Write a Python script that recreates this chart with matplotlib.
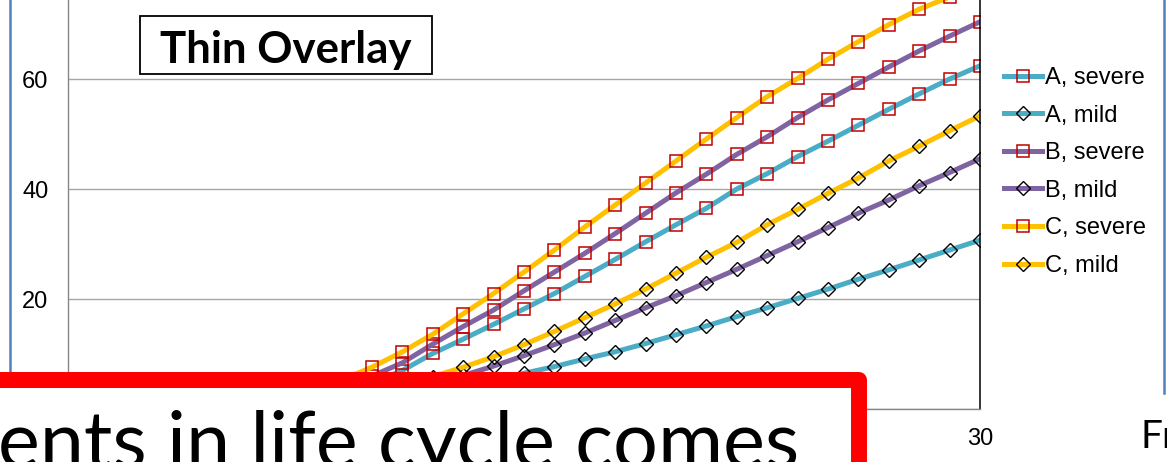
import matplotlib.pyplot as plt
from matplotlib.patches import Rectangle
from matplotlib.lines import Line2D

W, H = 1167, 462

days = list(range(31))

a_severe = [0, 0, 0, 0, 0.1, 0.3, 0.6, 1.1, 1.8, 2.9, 4.7, 7.0, 10.1, 12.7, 15.4, 18.2,
            21.0, 24.1, 27.2, 30.4, 33.5, 36.5, 40.0, 42.8, 45.9, 48.7, 51.6, 54.5, 57.3, 60.0, 62.4]
a_mild = [0, 0, 0, 0, 0, 0.1, 0.3, 0.5, 0.9, 1.4, 2.0, 2.7, 3.5, 4.4, 5.4, 6.5,
          7.7, 9.1, 10.4, 11.9, 13.5, 15.1, 16.8, 18.4, 20.1, 21.8, 23.6, 25.3, 27.1, 28.9, 30.7]
b_severe = [0, 0, 0, 0, 0.1, 0.3, 0.7, 1.3, 2.3, 3.8, 6.0, 8.4, 11.8, 15.0, 18.0, 21.5,
            24.9, 28.3, 31.9, 35.6, 39.3, 42.7, 46.3, 49.5, 53.0, 56.2, 59.2, 62.2, 65.1, 67.8, 70.4]
b_mild = [0, 0, 0, 0, 0.05, 0.15, 0.3, 0.6, 1.1, 1.7, 2.5, 3.5, 4.7, 6.1, 7.8, 9.7,
          11.7, 13.8, 16.1, 18.4, 20.6, 23.0, 25.4, 27.9, 30.4, 33.0, 35.6, 38.0, 40.6, 43.0, 45.5]
c_severe = [0, 0, 0.05, 0.15, 0.35, 0.7, 1.3, 2.2, 3.5, 5.3, 7.6, 10.4, 13.6, 17.3, 21.0, 24.9,
            28.9, 33.1, 37.1, 41.1, 45.1, 49.1, 53.0, 56.8, 60.1, 63.6, 66.8, 69.9, 72.7, 74.9, 77.0]
c_mild = [0, 0, 0, 0, 0.1, 0.2, 0.4, 0.8, 1.4, 2.2, 3.2, 4.4, 5.9, 7.6, 9.5, 11.7,
          14.1, 16.6, 19.1, 21.8, 24.7, 27.6, 30.3, 33.5, 36.3, 39.2, 42.0, 45.1, 47.8, 50.6, 53.3]

labels = ['A, severe', 'A, mild', 'B, severe', 'B, mild', 'C, severe', 'C, mild']
series = [a_severe, a_mild, b_severe, b_mild, c_severe, c_mild]
colors = ['#4BACC6', '#4BACC6', '#8064A2', '#8064A2', '#FFC000', '#FFC000']
y_ticks = [0, 20, 40, 60, 80]
x_ticks = [0, 10, 20, 30]


def fx(px):
    return px / W


def fy(py):
    return (H - py) / H


fig = plt.figure(figsize=(W / 100, H / 100), dpi=100)
fig.patch.set_facecolor('white')

# plot area: x=0 at 68px, x=30 at 980px; y=0 at 409px, 5.5 px per unit
ax = fig.add_axes([fx(68), fy(409), (980 - 68) / W, 440 / H])
ax.set_xlim(0, 30)
ax.set_ylim(0, 80)

for name, vals, col in zip(labels, series, colors):
    if 'severe' in name:
        ax.plot(days, vals, color=col, lw=3.6, marker='s', ms=8.8, mfc='none',
                mec='#C00000', mew=1.1, label=name)
    else:
        ax.plot(days, vals, color=col, lw=3.6, marker='D', ms=7.6, mfc='none',
                mec='black', mew=1.0, label=name)

ax.set_yticks(y_ticks)
ax.set_xticks(x_ticks)
ax.tick_params(length=0, labelsize=17, pad=14)
for t in ax.get_xticklabels() + ax.get_yticklabels():
    t.set_fontfamily('Liberation Sans')
ax.grid(axis='y', color='#A6A6A6', lw=1.0)
ax.set_axisbelow(True)
for s in ('left', 'bottom'):
    ax.spines[s].set_color('#868686')
    ax.spines[s].set_linewidth(1.0)
ax.spines['right'].set_color('black')
ax.spines['right'].set_linewidth(1.1)
ax.spines['top'].set_visible(False)

leg = fig.legend(loc='upper left', bbox_to_anchor=(fx(1004), fy(67)),
                 frameon=False, borderpad=0, borderaxespad=0, handlelength=1.6,
                 handletextpad=0.15, labelspacing=0.66,
                 prop={'family': 'Liberation Sans', 'size': 17})

# slide frame lines
fig.add_artist(Line2D([fx(10), fx(10)], [fy(0), fy(380)], color='#4F81BD', lw=1.8, zorder=3))
fig.add_artist(Line2D([fx(1164), fx(1164)], [fy(0), fy(393)], color='#4F81BD', lw=1.8, zorder=3))

# title box
fig.add_artist(Rectangle((fx(140), fy(74)), fx(432) - fx(140), fy(16) - fy(74),
                         transform=fig.transFigure, facecolor='white', edgecolor='black',
                         lw=1.3, zorder=4))
fig.text(fx(286), fy(63), 'Thin Overlay', ha='center', va='baseline', fontsize=31.5,
         fontweight='bold', family='Lato', zorder=5)

# red callout box over the lower part
fig.add_artist(Rectangle((fx(-60), fy(560)), fx(859) - fx(-60), fy(380) - fy(560),
                         transform=fig.transFigure, facecolor='white', edgecolor='#FF0000',
                         lw=11.5, joinstyle='round', zorder=6))
fig.text(fx(-2), fy(468), 'ents in life cycle comes', ha='left', va='baseline',
         fontsize=57, family='Lato', zorder=7)
fig.text(fx(1140), fy(448), 'Fr', ha='left', va='baseline', fontsize=28,
         family='Lato', zorder=7)

fig.savefig('out.png', dpi=100)
